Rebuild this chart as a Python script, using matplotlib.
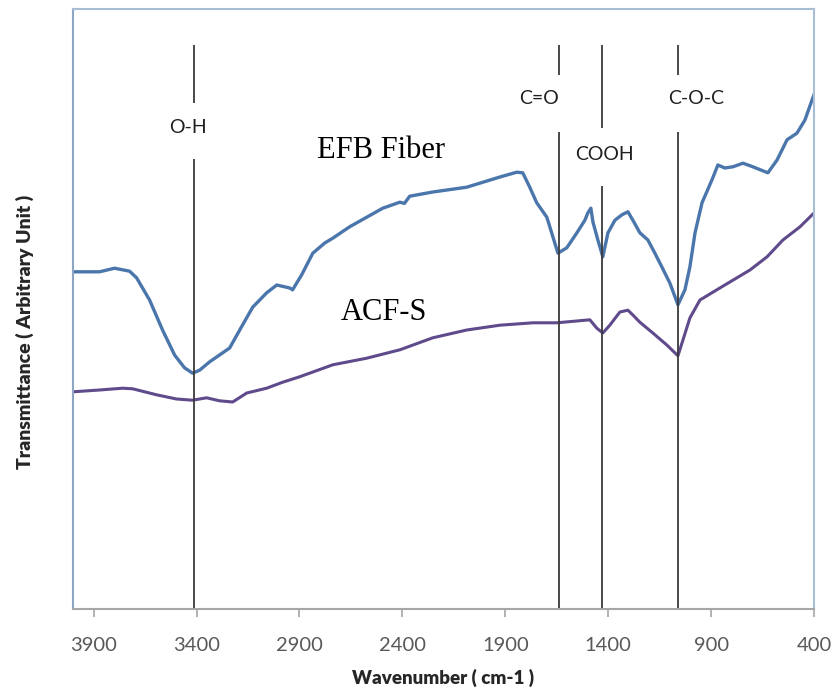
import numpy as np
import matplotlib.pyplot as plt

# --------------------------------------------------------------------
# Data
# --------------------------------------------------------------------
efb_wn = [4000, 3871, 3798, 3725, 3691, 3628, 3565, 3506, 3458, 3419,
          3385, 3336, 3239, 3190, 3127, 3059, 3010, 2947, 2933, 2889,
          2835, 2777, 2738, 2656, 2573, 2495, 2412, 2390, 2364, 2252,
          2087, 1926, 1844, 1815, 1781, 1747, 1698, 1644, 1601, 1552,
          1513, 1499, 1484, 1474, 1450, 1426, 1401, 1367, 1333, 1304,
          1280, 1246, 1207, 1173, 1139, 1100, 1061, 1027, 1003, 978,
          944, 896, 867, 833, 794, 745, 697, 624, 580, 531,
          483, 444, 410, 400]
efb_t = [56.2, 56.2, 56.8, 56.3, 55.2, 51.5, 46.5, 42.3, 40.2, 39.3,
         39.8, 41.2, 43.5, 46.5, 50.3, 52.7, 54.0, 53.5, 53.2, 55.7,
         59.3, 61.0, 61.8, 63.7, 65.3, 66.8, 67.8, 67.6, 68.8, 69.5,
         70.3, 72.0, 72.8, 72.7, 70.3, 67.7, 65.3, 59.3, 60.2, 62.7,
         64.8, 66.0, 66.8, 64.5, 61.5, 58.7, 62.7, 64.8, 65.7, 66.2,
         64.8, 62.7, 61.5, 59.3, 57.0, 54.3, 50.7, 53.2, 57.0, 62.7,
         67.7, 71.5, 74.0, 73.5, 73.7, 74.3, 73.7, 72.7, 74.8, 78.2,
         79.3, 81.5, 84.8, 85.7]

acf_wn = [4000, 3871, 3759, 3710, 3594, 3497, 3419, 3351, 3288, 3224,
          3156, 3059, 2981, 2899, 2738, 2573, 2412, 2252, 2087, 1926,
          1766, 1649, 1489, 1455, 1426, 1392, 1343, 1304, 1280, 1246,
          1183, 1115, 1061, 1037, 1003, 954, 872, 794, 711, 628,
          551, 468, 400]
acf_t = [36.2, 36.5, 36.8, 36.7, 35.7, 35.0, 34.8, 35.2, 34.7, 34.5,
         36.0, 36.8, 37.8, 38.7, 40.7, 41.8, 43.2, 45.2, 46.5, 47.3,
         47.7, 47.7, 48.2, 46.8, 46.0, 47.3, 49.5, 49.8, 49.0, 47.8,
         46.0, 44.0, 42.2, 44.8, 48.5, 51.5, 53.2, 54.8, 56.5, 58.7,
         61.5, 63.7, 66.0]

# band markers
band_labels = ["O-H", "C=O", "COOH", "C-O-C"]
band_wn = [3410, 1640, 1430, 1060]

xticks = [3900, 3400, 2900, 2400, 1900, 1400, 900, 400]

# --------------------------------------------------------------------
# Figure
# --------------------------------------------------------------------
fig = plt.figure(figsize=(8.32, 6.91), dpi=100)
ax = fig.add_axes([73 / 832, 82 / 691, 741 / 832, 600 / 691])

ax.plot(efb_wn, efb_t, color="#4a76ac", lw=2.4, solid_joinstyle="round")
ax.plot(acf_wn, acf_t, color="#5f4a8c", lw=2.2, solid_joinstyle="round")

# vertical marker lines with a gap for the label
gap_lo = [84.3, 89.0, 80.2, 89.0]   # upper segment bottom
gap_hi = [75.0, 79.5, 70.5, 79.5]   # lower segment top
label_y = [80.3, 85.0, 75.8, 85.0]
label_x = [3444, 1735, 1419, 973]
for wn, lo, hi in zip(band_wn, gap_lo, gap_hi):
    ax.vlines(wn, lo, 94, color="#3a3a3a", lw=1.3)
    ax.vlines(wn, 0, hi, color="#3a3a3a", lw=1.3)
for lab, x, y in zip(band_labels, label_x, label_y):
    ax.text(x, y, lab, ha="center", va="center", fontsize=14,
            family="Lato", color="#1f1f1f")

ax.text(2816, 75.2, "EFB Fiber", family="Liberation Serif", fontsize=22,
        va="baseline", ha="left")
ax.text(2699, 48.2, "ACF-S", family="Liberation Serif", fontsize=22,
        va="baseline", ha="left")

ax.set_xlim(4000, 400)
ax.set_ylim(0, 100)
ax.set_xticks(xticks)
ax.set_xticklabels([str(t) for t in xticks], family="Lato", fontsize=14.5,
                   color="#595959")
ax.set_yticks([])
ax.tick_params(axis="x", direction="out", length=6, width=1.2,
               color="#a6a6a6", pad=14)

for side in ["top", "right", "left"]:
    ax.spines[side].set_color("#a9bdd4")
    ax.spines[side].set_linewidth(1.5)
ax.spines["left"].set_color("#8ea6c4")
ax.spines["bottom"].set_color("#a6a6a6")
ax.spines["bottom"].set_linewidth(1.5)

fig.text(443 / 832, 1 - 678 / 691, "Wavenumber ( cm-1 )", family="Lato",
         fontweight="heavy", fontsize=13.5, ha="center", va="center",
         color="#262626")
fig.text(25 / 832, 1 - 332 / 691, "Transmittance ( Arbitrary Unit )",
         family="Lato", fontweight="heavy", fontsize=14, rotation=90,
         ha="center", va="center", color="#262626")

fig.savefig("out.png", dpi=100)
